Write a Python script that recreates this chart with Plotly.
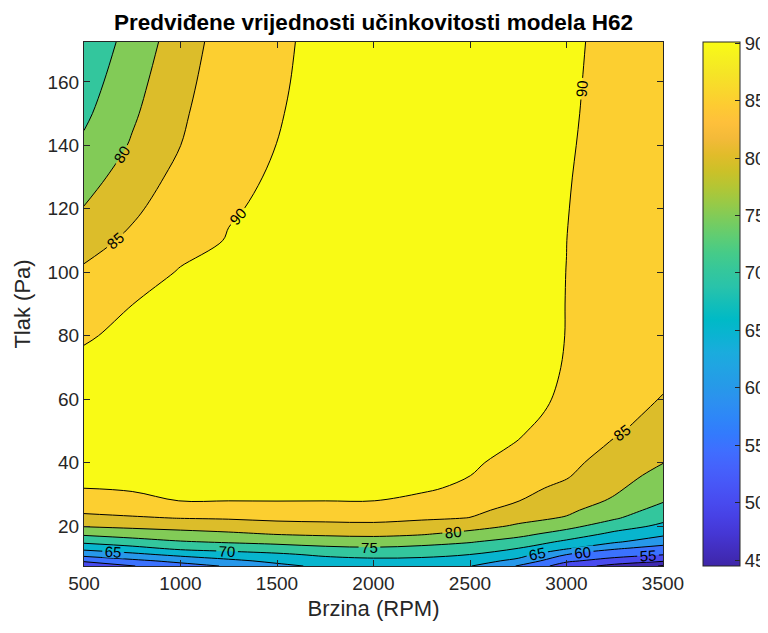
import plotly.graph_objects as go

# ---------------- data ----------------
RPM = [500, 750, 1000, 1250, 1500, 1750, 2000, 2250, 2500, 2750, 3000, 3250, 3500]
PRESSURE = [7.4, 9, 11, 13, 15, 17.5, 20, 22.5, 25, 28, 32, 36, 40, 45, 50, 55, 60,
            70, 80, 90, 100, 110, 120, 130, 140, 150, 160, 172.6]
EFFICIENCY = [
    [51.0, 54.8, 58.0, 60.5, 63.8, 66.0, 67.0, 67.0, 65.2, 59.7, 52.5, 48.5, 44.6],
    [55.7, 58.8, 61.25, 63.9, 66.1, 68.1, 68.8, 68.7, 67.5, 63.5, 55.8, 52.8, 50.5],
    [61.7, 63.75, 66.3, 68.0, 69.2, 70.8, 71.5, 71.1, 69.98, 67.1, 60.02, 57.0, 55.2],
    [66.4, 68.6, 71.1, 71.9, 72.8, 74.0, 74.5, 73.8, 72.6, 70.02, 65.7, 60.6, 58.4],
    [71.0, 72.8, 74.6, 75.5, 76.3, 77.2, 77.6, 76.7, 75.3, 73.0, 69.0, 65.6, 61.9],
    [75.9, 77.3, 78.3, 79.2, 80.25, 80.8, 81.1, 80.4, 78.6, 76.4, 73.0, 68.8, 66.1],
    [80.4, 81.1, 81.8, 82.5, 83.4, 83.8, 84.0, 83.2, 81.8, 79.4, 76.5, 72.4, 69.0],
    [83.8, 84.5, 85.1, 85.4, 85.95, 86.1, 86.2, 85.6, 84.9, 81.4, 79.6, 75.5, 71.3],
    [85.9, 86.5, 87.4, 87.6, 87.9, 88.0, 88.0, 87.2, 85.9, 83.8, 81.0, 77.3, 73.3],
    [87.7, 88.7, 90.1, 90.05, 90.1, 90.05, 90.05, 89.05, 87.0, 85.1, 82.3, 79.4, 75.4],
    [90.05, 90.5, 90.8, 90.8, 90.8, 90.7, 90.6, 90.6, 89.2, 86.1, 84.1, 80.8, 77.0],
    [90.6, 91.0, 91.3, 91.3, 91.2, 91.1, 91.0, 90.8, 90.05, 87.2, 85.4, 81.9, 78.6],
    [91.2, 91.4, 91.6, 91.6, 91.5, 91.4, 91.3, 91.1, 90.8, 88.2, 86.2, 83.0, 80.1],
    [91.4, 91.7, 91.9, 91.9, 91.8, 91.6, 91.5, 91.3, 91.2, 89.7, 87.3, 84.3, 81.6],
    [91.5, 91.8, 92.0, 92.0, 92.0, 91.8, 91.7, 91.5, 91.3, 90.4, 88.3, 85.5, 83.0],
    [91.4, 91.8, 92.0, 92.1, 92.1, 91.9, 91.8, 91.6, 91.4, 90.8, 89.17, 86.0, 84.2],
    [91.3, 91.7, 92.0, 92.1, 92.1, 92.0, 91.9, 91.7, 91.5, 91.0, 89.55, 86.3, 84.85],
    [90.7, 91.3, 91.8, 91.9, 92.0, 92.0, 92.0, 91.8, 91.5, 91.2, 89.84, 86.6, 85.8],
    [89.7, 90.7, 91.4, 91.6, 91.8, 91.9, 92.0, 91.9, 91.6, 91.3, 89.95, 86.9, 86.3],
    [87.7, 89.98, 90.9, 91.2, 91.6, 91.8, 92.0, 91.9, 91.6, 91.3, 89.96, 87.1, 86.6],
    [85.7, 88.0, 90.3, 90.7, 91.3, 91.7, 92.0, 91.9, 91.6, 91.3, 89.98, 87.2, 86.9],
    [83.1, 86.0, 88.6, 90.2, 91.0, 91.6, 91.9, 91.9, 91.6, 91.3, 90.02, 87.3, 87.1],
    [80.2, 84.1, 87.7, 89.72, 90.6, 91.5, 91.9, 91.9, 91.6, 91.3, 90.15, 87.6, 87.3],
    [78.0, 82.3, 86.4, 89.3, 90.3, 91.5, 91.8, 91.8, 91.6, 91.3, 90.29, 87.9, 87.5],
    [75.8, 80.5, 84.98, 88.88, 90.03, 91.4, 91.8, 91.8, 91.5, 91.2, 90.48, 88.1, 87.7],
    [74.1, 79.3, 84.23, 88.46, 89.75, 91.4, 91.7, 91.7, 91.5, 91.2, 90.64, 88.3, 87.9],
    [72.7, 78.3, 83.47, 88.03, 89.5, 91.3, 91.7, 91.7, 91.4, 91.2, 90.73, 88.5, 88.1],
    [71.0, 77.0, 82.5, 87.5, 89.2, 91.3, 91.6, 91.6, 91.4, 91.1, 90.85, 88.7, 88.3],
]
LEVEL_START, LEVEL_END, LEVEL_STEP = 45, 90, 5
CBAR_MIN, CBAR_MAX = 44.5, 90.1
CBAR_TICKS = [45, 50, 55, 60, 65, 70, 75, 80, 85, 90]
X_TICKS = [500, 1000, 1500, 2000, 2500, 3000, 3500]
Y_TICKS = [20, 40, 60, 80, 100, 120, 140, 160]

TITLE = "Predviđene vrijednosti učinkovitosti modela H62"
X_TITLE = "Brzina (RPM)"
Y_TITLE = "Tlak (Pa)"

# ---------------- parula colormap (style) ----------------
PARULA_IDX = [0, 8, 16, 24, 32, 40, 48, 56, 64, 72, 80, 88, 96, 104, 112, 120, 128,
              136, 144, 152, 160, 168, 176, 184, 192, 200, 208, 216, 224, 232, 240, 248, 255]
PARULA_RGB = [
    (0.2422, 0.1504, 0.6603), (0.2576, 0.1814, 0.7501), (0.2704, 0.2138, 0.8346),
    (0.2781, 0.2543, 0.8973), (0.2813, 0.2985, 0.9397), (0.2798, 0.3421, 0.9702),
    (0.2710, 0.3860, 0.9898), (0.2473, 0.4319, 0.9983), (0.2006, 0.4803, 0.9906),
    (0.1795, 0.5244, 0.9709), (0.1716, 0.5655, 0.9393), (0.1475, 0.6043, 0.9113),
    (0.1288, 0.6408, 0.8910), (0.1009, 0.6750, 0.8653), (0.0433, 0.7039, 0.8242),
    (0.0018, 0.7275, 0.7752), (0.0770, 0.7468, 0.7224), (0.1609, 0.7635, 0.6671),
    (0.2061, 0.7808, 0.6065), (0.2695, 0.7951, 0.5360), (0.3671, 0.8021, 0.4563),
    (0.4753, 0.8011, 0.3691), (0.5886, 0.7913, 0.2833), (0.6963, 0.7750, 0.2075),
    (0.7945, 0.7554, 0.1570), (0.8804, 0.7372, 0.1650), (0.9523, 0.7284, 0.2237),
    (0.9971, 0.7513, 0.2309), (0.9938, 0.7974, 0.1974), (0.9748, 0.8467, 0.1726),
    (0.9601, 0.8963, 0.1507), (0.9642, 0.9437, 0.1216), (0.9769, 0.9839, 0.0805),
]
PARULA_POS = [i / 255 for i in PARULA_IDX]


def rgb_str(c):
    return "rgb(%d,%d,%d)" % tuple(round(v * 255) for v in c)


def parula(t):
    t = min(max(t, 0.0), 1.0)
    for k in range(len(PARULA_POS) - 1):
        a, b = PARULA_POS[k], PARULA_POS[k + 1]
        if a <= t <= b:
            f = (t - a) / (b - a) if b > a else 0
            c0, c1 = PARULA_RGB[k], PARULA_RGB[k + 1]
            return rgb_str(tuple(c0[j] + f * (c1[j] - c0[j]) for j in range(3)))
    return rgb_str(PARULA_RGB[-1])


PARULA_SCALE = [[p, rgb_str(c)] for p, c in zip(PARULA_POS, PARULA_RGB)]

# band colours: MATLAB contourf fills each band with the colour of its lower level
n_bands = int((LEVEL_END - LEVEL_START) / LEVEL_STEP) + 2
BAND_SCALE = []
for k in range(n_bands):
    lower = LEVEL_START - LEVEL_STEP + k * LEVEL_STEP
    t = (lower - CBAR_MIN) / (CBAR_MAX - CBAR_MIN)
    BAND_SCALE.append([k / (n_bands - 1), parula(t)])

FONT = "Liberation Sans, Arial, sans-serif"
TXT = "#262626"

# the page body has an 8px margin, so the figure is sized/offset to compensate
FIG_W, FIG_H = 760, 625

fig = go.Figure()
fig.add_trace(go.Contour(
    x=RPM, y=PRESSURE, z=EFFICIENCY,
    autocontour=False,
    contours=dict(start=LEVEL_START, end=LEVEL_END, size=LEVEL_STEP,
                  coloring="fill", showlabels=True,
                  labelfont=dict(family=FONT, size=15, color="black")),
    colorscale=BAND_SCALE, showscale=False,
    line=dict(color="black", width=1),
    hoverinfo="skip",
))
fig.add_trace(go.Scatter(
    x=[None], y=[None], mode="markers", showlegend=False, hoverinfo="skip",
    marker=dict(color=[CBAR_MIN], cmin=CBAR_MIN, cmax=CBAR_MAX,
                colorscale=PARULA_SCALE, showscale=True,
                colorbar=dict(x=1.069, xanchor="left", xpad=0, ypad=0,
                              y=0.5, yanchor="middle",
                              len=524, lenmode="pixels",
                              thickness=37, thicknessmode="pixels",
                              tickvals=CBAR_TICKS, ticks="inside", ticklen=5,
                              tickcolor=TXT, outlinewidth=1, outlinecolor=TXT,
                              tickfont=dict(family=FONT, size=18.5, color=TXT))),
))

fig.update_layout(
    width=FIG_W, height=FIG_H,
    margin=dict(l=76, r=105, t=34, b=67, autoexpand=False),
    paper_bgcolor="white", plot_bgcolor="white",
    font=dict(family=FONT, color=TXT, size=19),
    title=dict(text="<b>" + TITLE + "</b>", x=0.5, xref="paper", xanchor="center",
               y=1 - 14 / FIG_H, yref="container", yanchor="middle",
               font=dict(family=FONT, size=22.5, color="black")),
    xaxis=dict(range=[500, 3500], tickvals=X_TICKS, ticks="inside", ticklen=6,
               tickcolor=TXT, showline=True, linecolor=TXT, linewidth=1, mirror="ticks",
               showgrid=False, zeroline=False,
               tickfont=dict(family=FONT, size=19, color=TXT),
               title=dict(text=X_TITLE, standoff=7, font=dict(family=FONT, size=22, color=TXT))),
    yaxis=dict(range=[7.4, 172.6], tickvals=Y_TICKS, ticks="inside", ticklen=6,
               tickcolor=TXT, showline=True, linecolor=TXT, linewidth=1, mirror="ticks",
               showgrid=False, zeroline=False,
               tickfont=dict(family=FONT, size=19, color=TXT),
               title=dict(text=Y_TITLE, standoff=10, font=dict(family=FONT, size=22, color=TXT))),
)

fig.write_html("out.html")
